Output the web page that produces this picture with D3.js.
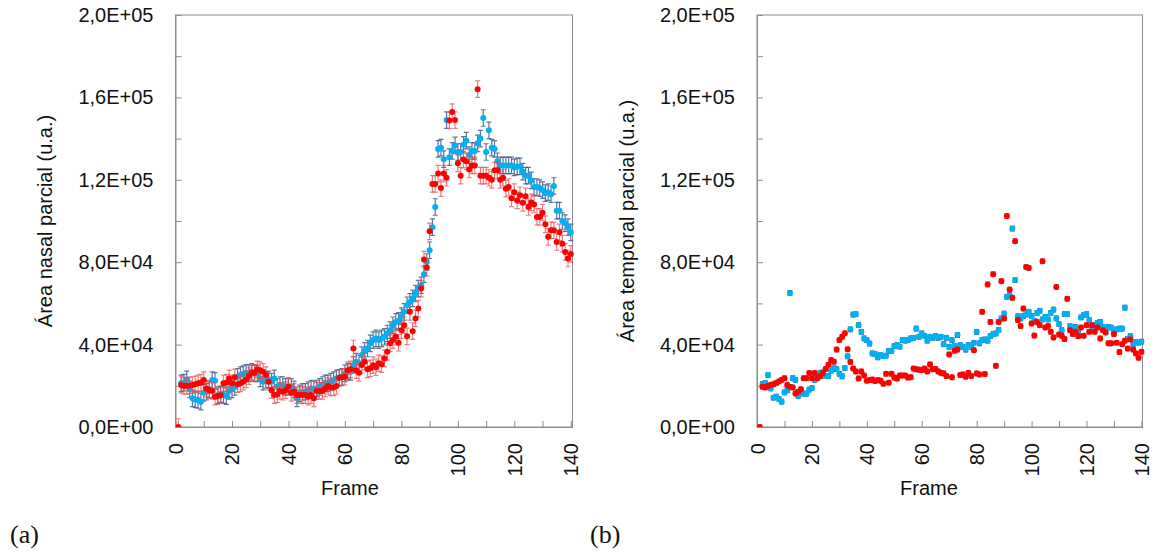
<!DOCTYPE html>
<html>
<head>
<meta charset="utf-8">
<script src="https://cdn.jsdelivr.net/npm/d3@7"></script>
<style>
  body { margin: 0; background: #fff; }
  text { font-family: "Liberation Sans", Arial, sans-serif; }
</style>
</head>
<body>
<svg id="chart" width="1159" height="554"></svg>
<script>
// frames 1..140, values in thousands of u.a.
const frames = d3.range(1, 141);

const nasalRed = [0, 20.4, 19.9, 20.0, 20.2, 20.4, 20.7, 21.2, 21.5, 22.8,
  18.7, 17.9, 17.5, 14.7, 15.0, 15.4, 21.2, 21.5, 23.6, 21.2,
  24.1, 20.8, 21.2, 22.0, 23.1, 24.7, 26.3, 26.3, 28.0, 27.6,
  26.8, 25.2, 22.0, 17.9, 15.5, 15.8, 17.5, 17.1, 17.9, 19.5,
  16.6, 17.1, 15.5, 15.5, 15.5, 15.5, 14.7, 15.5, 13.9, 17.5,
  17.5, 17.5, 18.7, 19.9, 19.2, 19.2, 19.9, 23.9, 24.1, 24.4,
  27.6, 28.0, 38.1, 27.6, 26.3, 30.1, 31.7, 28.0, 28.5, 30.0,
  29.0, 31.0, 30.5, 33.3, 36.5, 40.6, 42.2, 43.8, 40.9, 47.0,
  49.4, 44.0, 55.9, 46.5, 52.7, 57.5, 67.2, 81.3, 77.4, 95.0,
  118, 118, 123, 116, 123, 121, 148.8, 152.9, 149, 128,
  122, 129.8, 129, 125, 127, 127, 164, 122, 122, 122,
  121, 120, 124.6, 124.6, 120, 121, 115.7, 116.5, 111, 114,
  110, 112.5, 108.8, 112, 106.8, 109, 108, 102, 102, 104,
  98.4, 92.3, 95.5, 95.5, 89.8, 94.5, 89, 85, 81.8, 84];

const nasalBlue = [null, 21.2, 21.5, 23.1, 18.3, 13.9, 13.4, 13.1, 12.3, 16.6,
  17.1, 18.3, 22.8, 22.4, 15.5, 16.0, 15.5, 15.0, 17.5, 18.3,
  19.5, 24.4, 25.2, 25.7, 26.3, 26.0, 26.8, 26.0, 26.0, 23.6,
  22.0, 22.8, 23.1, 22.0, 23.6, 19.5, 20.4, 20.4, 19.5, 19.9,
  19.5, 18.3, 13.9, 16.3, 17.1, 17.1, 17.9, 18.7, 18.3, 18.7,
  19.5, 20.4, 21.2, 21.2, 22.0, 22.8, 23.6, 23.9, 24.4, 26.0,
  26.8, 26.8, 30.1, 31.7, 30.9, 34.9, 37.0, 38.1, 40.6, 42.2,
  43.0, 42.2, 43.0, 43.8, 45.4, 47.0, 49.4, 51.0, 51.5, 53.8,
  55.9, 59.1, 60.7, 62.4, 64.8, 67.2, 68.8, 74.2, 80.1, 85.8,
  97, 106.8, 135, 135.6, 130, 149, 131, 134, 136.7, 133.5,
  133.5, 137, 139, 132, 134, 134, 137.7, 140, 150, 133.5,
  144, 135.6, 135, 129, 127, 127, 127, 127, 127, 126,
  126.5, 126.5, 124, 122, 122, 119.7, 116.5, 116.5, 116, 115,
  113.5, 114, 113, 117, 105, 105, 100, 99, 97, 94.5];

const temporalRed = [0, 19.5, 19.2, 19.9, 20.4, 20.7, 21.3, 22.1, 22.9, 23.7,
  20.4, 19.5, 19.2, 16.3, 17.1, 18.3, 23.7, 23.7, 26.2, 23.7,
  26.2, 23.7, 24.6, 26.2, 28.1, 30.2, 32.5, 31.7, 37.6, 42.2,
  43.8, 45.5, 37.7, 31.5, 28.4, 27, 23.6, 27, 25, 22.5,
  22.8, 23, 22.3, 22.8, 22.5, 21, 25.8, 21.5, 25.8, 24,
  23.5, 25, 25, 25, 24, 24.2, 28.4, 28, 27.8, 27.6,
  28.4, 27, 30.4, 28, 28.2, 27, 26.3, 26, 24.7, 35.2,
  24.1, 37, 37.6, 25.2, 25.5, 24.4, 26.3, 24.7, 37.3, 26,
  25.5, 55.9, 25.7, 69.2, 51, 74.2, 29.7, 51, 70.8, 52.7,
  102.4, 66.7, 62.7, 90.2, 51.9, 49, 57.5, 77.7, 77.2, 50.3,
  44.4, 51, 49.4, 80.5, 48.3, 49, 46.2, 43.5, 68, 44.9,
  44.3, 42.7, 62.2, 47, 45.1, 46.2, 44.1, 48.3, 44.3, 49.4,
  46.2, 49.4, 46.2, 48.3, 43, 47, 45.9, 40.6, 40.6, 45.1,
  40.9, 36.4, 40.2, 41.9, 38.1, 42.5, 37.6, 35.7, 33.6, 36.5];

const temporalBlue = [null, 20.8, 21.3, 25.2, 18.7, 14.2, 14.7, 13.6, 12.3, 16.8,
  17.8, 65.1, 23.7, 22.9, 15.1, 17.8, 16.2, 16.2, 18.1, 18.9,
  22.9, 24.8, 26.2, 26.5, 24.8, 24.8, 27.4, 28.6, 28.1, 25.8,
  24.6, 28.6, 34.3, 47.4, 54.6, 54.8, 49.4, 46.2, 43, 42.2,
  40.5, 35.7, 35.4, 33.8, 34.9, 34.4, 34.6, 37, 36.9, 39.3,
  39.8, 39, 42.2, 41.9, 42.2, 43, 43.3, 47.8, 43.8, 45.4,
  44.3, 41.9, 43.8, 43.3, 44.1, 43.3, 43.8, 40.2, 43.3, 38.9,
  42.2, 39.4, 44.6, 39.8, 38.9, 37.6, 39.8, 38.9, 40.9, 46.2,
  40.6, 42.2, 42.5, 41.9, 44.1, 45.1, 45.4, 47, 52.7, 55.1,
  63.2, 64, 96.3, 71.3, 53.8, 52.7, 53.8, 54.6, 55.9, 53.8,
  51.5, 55.4, 56.4, 52.2, 53.5, 52.2, 55.4, 57, 52.7, 49.9,
  47, 54.8, 54.8, 49, 47.4, 48.6, 45.7, 53.2, 54.3, 54.8,
  51.9, 48.6, 49.4, 50.6, 51, 48.6, 47.8, 48.6, 48.2, 46.7,
  47.4, 47.8, 47.8, 57.9, 42.8, 44.1, 40.2, 41.2, 40.9, 41.4];

// error bar half-widths (u.a.)
const nasalErr = 4000;
const temporalErr = 1100;

const yTicks = d3.range(0, 200001, 20000);
const yLabels = d3.range(0, 200001, 40000);
const xTicks = d3.range(0, 141, 10);
const xLabels = d3.range(0, 141, 20);

const red = "#ff0000", blue = "#00b0f0";
const axisGray = "#8c8c8c";

const svg = d3.select("#chart");

// 2,0E+05 style
function sciFmt(v) {
  if (v === 0) return "0,0E+00";
  const e = Math.floor(Math.log10(v));
  const m = (v / Math.pow(10, e)).toFixed(1).replace(".", ",");
  return m + "E+" + String(e).padStart(2, "0");
}

function drawPanel(o) {
  const x = d3.scaleLinear().domain([0, o.xMax]).range([o.left, o.right]);
  const y = d3.scaleLinear().domain([0, 200000]).range([427, 15]);
  const g = svg.append("g");

  g.append("clipPath").attr("id", o.id + "clip")
    .append("rect").attr("x", o.left).attr("y", 0)
    .attr("width", o.right - o.left + 6).attr("height", 427);

  // box
  g.append("rect")
    .attr("x", o.left).attr("y", 15)
    .attr("width", o.right - o.left).attr("height", 412)
    .attr("fill", "none").attr("stroke", axisGray).attr("stroke-width", 1);

  // y axis, ticks inside
  const ya = g.append("g")
    .attr("transform", `translate(${o.left},0)`)
    .call(d3.axisLeft(y).tickValues(yTicks).tickSizeInner(-6).tickSizeOuter(0).tickPadding(22)
      .tickFormat(d => yLabels.includes(d) ? sciFmt(d) : ""));
  ya.selectAll("text").attr("font-size", 20).attr("fill", "#111")
    .style("font-family", '"Liberation Sans", Arial, sans-serif');

  // x axis
  const xa = g.append("g")
    .attr("transform", `translate(0,427)`)
    .call(d3.axisBottom(x).tickValues(xTicks).tickSizeInner(-6).tickSizeOuter(0)
      .tickFormat(d => xLabels.includes(d) ? d : ""));
  xa.selectAll("text")
    .attr("transform", "rotate(-90)")
    .attr("text-anchor", "end")
    .attr("x", -16).attr("y", 0).attr("dy", "0.35em")
    .attr("font-size", 20).attr("fill", "#111")
    .style("font-family", '"Liberation Sans", Arial, sans-serif');

  [ya, xa].forEach(a => {
    a.selectAll("line").attr("stroke", axisGray);
    a.select(".domain").attr("stroke", axisGray);
  });

  // axis titles
  g.append("text")
    .attr("transform", `translate(${o.titleX},221) rotate(-90)`)
    .attr("text-anchor", "middle").attr("font-size", 20).attr("fill", "#111")
    .text(o.yTitle);
  g.append("text")
    .attr("x", o.frameX).attr("y", 495)
    .attr("text-anchor", "middle").attr("font-size", 20).attr("fill", "#111")
    .text("Frame");

  // panel letter
  svg.append("text")
    .attr("x", o.letterX).attr("y", 543)
    .style("font-family", '"Liberation Serif", "DejaVu Serif", serif')
    .attr("font-size", 26).attr("fill", "#111")
    .text(o.letter);

  const plot = g.append("g").attr("clip-path", `url(#${o.id}clip)`);

  function series(vals, color, barColor, err) {
    const pts = frames.map((f, i) => ({ f: f, v: vals[i] }))
      .filter(d => d.v !== null)
      .map(d => ({ f: d.f, v: d.v * 1000 }));
    const bars = plot.append("g")
      .attr("stroke", barColor).attr("stroke-width", 1.2).attr("fill", "none");
    bars.selectAll("path").data(pts).join("path")
      .attr("d", d => {
        const cx = x(d.f), y0 = y(d.v - err), y1 = y(d.v + err);
        return `M${cx},${y0}V${y1}M${cx - 2.5},${y0}H${cx + 2.5}M${cx - 2.5},${y1}H${cx + 2.5}`;
      });
    plot.append("g").selectAll("circle").data(pts).join("circle")
      .attr("cx", d => x(d.f)).attr("cy", d => y(d.v))
      .attr("r", 3).attr("fill", color);
  }

  series(o.blue, blue, o.blueBar, o.err);
  series(o.red, red, o.redBar, o.err);
}

drawPanel({
  id: "a", left: 175.5, right: 572.5, xMax: 140.6, titleX: 52, frameX: 350,
  yTitle: "Área nasal parcial (u.a.)", letter: "(a)", letterX: 10,
  red: nasalRed, blue: nasalBlue, err: nasalErr,
  redBar: "rgba(230,80,85,0.75)", blueBar: "rgba(55,80,130,0.8)"
});

drawPanel({
  id: "b", left: 757, right: 1142.5, xMax: 140.4, titleX: 634, frameX: 929,
  yTitle: "Área temporal parcial (u.a.)", letter: "(b)", letterX: 590,
  red: temporalRed, blue: temporalBlue, err: temporalErr,
  redBar: "rgba(200,60,70,0.8)", blueBar: "rgba(30,60,130,0.85)"
});
</script>
</body>
</html>
